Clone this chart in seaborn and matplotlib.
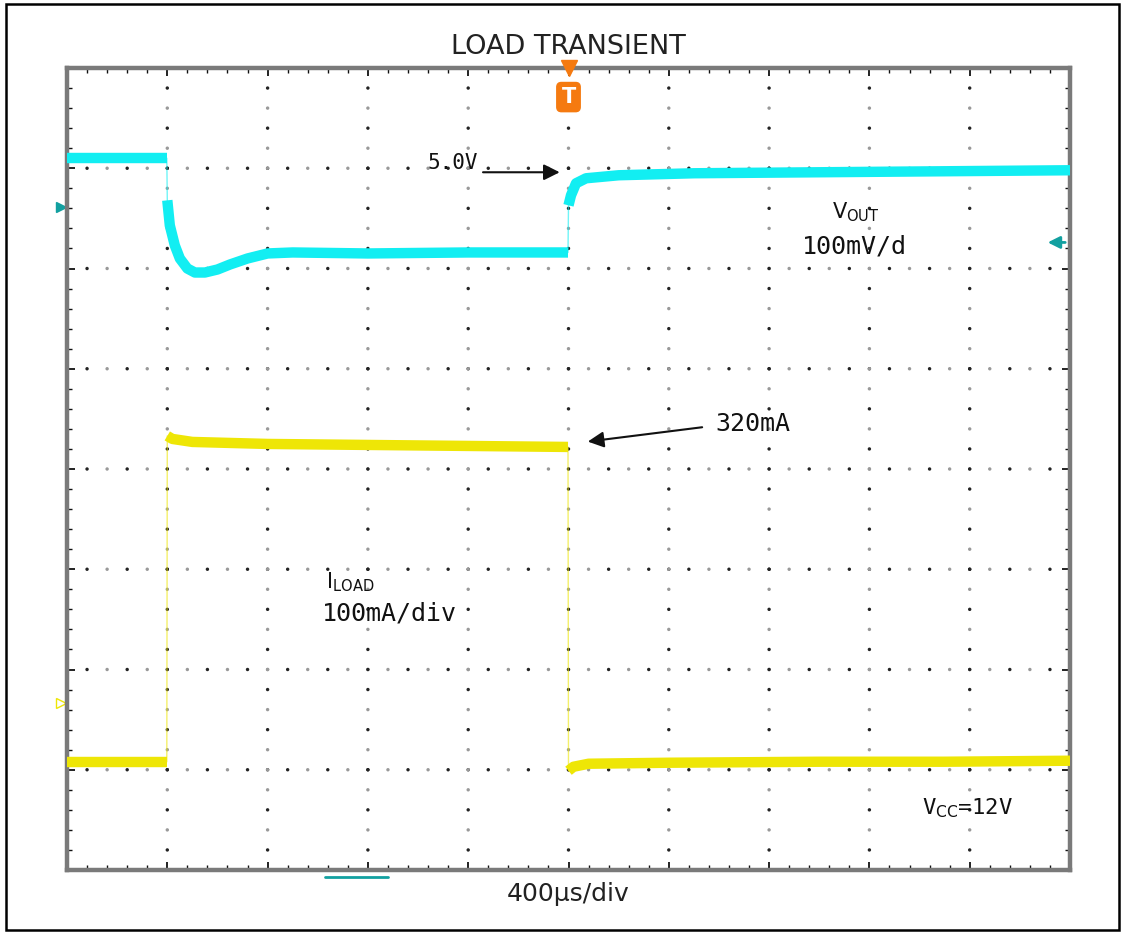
import numpy as np
import pandas as pd
import seaborn as sns
import matplotlib.pyplot as plt
from matplotlib.patches import Rectangle

# time in microseconds (400us/div, 10 div), traces in screen divisions (0..8)
t_vout = [0, 200, 398, 400, 410, 430, 450, 480, 510, 550, 600, 650, 720, 800, 900,
          1200, 1600, 1998, 2000, 2010, 2030, 2070, 2200, 2500, 3000, 3500, 4000]
vout_div = [7.10, 7.10, 7.10, 6.68, 6.43, 6.23, 6.10, 6.00, 5.96, 5.96, 5.99, 6.04, 6.10, 6.15, 6.16,
            6.15, 6.16, 6.16, 6.63, 6.73, 6.85, 6.90, 6.93, 6.95, 6.96, 6.97, 6.98]

t_iload = [0, 200, 398, 400, 420, 500, 800, 1200, 1600, 1998,
           2000, 2020, 2080, 2400, 3000, 3500, 4000]
iload_div = [1.08, 1.08, 1.08, 4.33, 4.30, 4.27, 4.25, 4.24, 4.23, 4.22,
             0.99, 1.03, 1.06, 1.07, 1.08, 1.08, 1.09]

cyan = "#12EEF2"
yellow = "#EEE606"
teal = "#12A0A0"
orange = "#F57A10"
mono = ["DejaVu Sans Mono", "DejaVu Sans"]


def make_df(t, v):
    t = np.asarray(t, dtype=float)
    seg = np.cumsum(np.r_[0, np.diff(t) <= 2])  # break at the fast edges
    return pd.DataFrame({"t": t, "v": v, "seg": seg})


vout = make_df(t_vout, vout_div)
iload = make_df(t_iload, iload_div)

sns.set_theme(style="white")
plt.rcParams["font.family"] = ["DejaVu Sans"]

fig = plt.figure(figsize=(11.25, 9.34), dpi=100)
ax = fig.add_axes([67 / 1125, 1 - 870 / 934, 1003 / 1125, 802 / 934])

# grid: dotted lines, a dot every 0.2 div
dots = np.arange(0, 8.001, 0.2)
for k in range(1, 10):
    ax.scatter(np.full(dots.size, k * 400), dots, s=6, c=np.where(np.arange(dots.size) % 2, "#222", "#999"),
               linewidths=0, zorder=1)
xdots = np.arange(0, 4000.1, 80)
for k in range(1, 8):
    ax.scatter(xdots, np.full(xdots.size, k), s=6, c=np.where(np.arange(xdots.size) % 2, "#222", "#999"),
               linewidths=0, zorder=1)

# traces: thin line for the edges, thick band for the rest
for df, col in [(vout, cyan), (iload, yellow)]:
    sns.lineplot(data=df, x="t", y="v", color=col, lw=1.0, alpha=0.6, estimator=None, sort=False, ax=ax, zorder=3)
    sns.lineplot(data=df, x="t", y="v", units="seg", estimator=None, sort=False, color=col, lw=7.5,
                 solid_capstyle="butt", ax=ax, zorder=4)

ax.set_xlim(0, 4000)
ax.set_ylim(0, 8)
ax.set_xticks(np.arange(0, 4001, 400))
ax.set_xticks(np.arange(0, 4001, 80), minor=True)
ax.set_yticks(np.arange(0, 9, 1))
ax.set_yticks(np.arange(0, 8.01, 0.2), minor=True)
ax.tick_params(which="both", direction="in", top=True, right=True, bottom=True, left=True,
               labelbottom=False, labelleft=False, color="#111")
ax.tick_params(which="major", length=6, width=1.3)
ax.tick_params(which="minor", length=3.5, width=1.0)
for s in ax.spines.values():
    s.set_color("#7a7a7a")
    s.set_linewidth(3.2)
ax.set_ylabel("")

ax.set_title("LOAD TRANSIENT", fontsize=19.5, color="#222", pad=10)
ax.set_xlabel("400\u00b5s/div", fontsize=18, color="#222", labelpad=9)

# annotations
ax.text(1436, 7.05, "5.0V", fontsize=15, family=mono, ha="left", va="center", color="#111")
ax.annotate("", xy=(1976, 6.96), xytext=(1648, 6.96),
            arrowprops=dict(arrowstyle="-|>", color="#111", lw=1.5, mutation_scale=24))
ax.text(2584, 4.45, "320mA", fontsize=18, family=mono, ha="left", va="center", color="#111")
ax.annotate("", xy=(2066, 4.27), xytext=(2544, 4.42),
            arrowprops=dict(arrowstyle="-|>", color="#111", lw=1.5, mutation_scale=24))

ax.text(3144, 6.56, r"V$_{\rm OUT}$", fontsize=15, ha="center", va="center", color="#111")
ax.text(3140, 6.22, "100mV/d", fontsize=18, family=mono, ha="center", va="center", color="#111")
ax.text(1128, 2.87, r"I$_{\rm LOAD}$", fontsize=15, ha="center", va="center", color="#111")
ax.text(1285, 2.56, "100mA/div", fontsize=18, family=mono, ha="center", va="center", color="#111")
ax.text(3593, 0.62, r"V$_{\rm CC}$=12V", fontsize=16, family=mono, ha="center", va="center", color="#111")

# trigger marker
ax.text(2000, 7.71, "T", fontsize=15, fontweight="bold", color="white", ha="center", va="center",
        bbox=dict(boxstyle="round,pad=0.22", fc=orange, ec=orange), zorder=6)
ax.plot([2000], [8.0], marker="v", ms=11, color=orange, clip_on=False, zorder=6)

# channel markers around the screen
ax.plot([-22], [6.61], marker=">", ms=7, color=teal, clip_on=False)
ax.plot([-22], [1.67], marker=">", ms=7, mfc="none", mec=yellow, clip_on=False)
ax.annotate("", xy=(3900, 6.26), xytext=(3992, 6.26),
            arrowprops=dict(arrowstyle="-|>", color=teal, lw=2, mutation_scale=18))
ax.plot([1029, 1280], [-0.07, -0.07], color=teal, lw=2, clip_on=False, zorder=6)

fig.add_artist(Rectangle((6 / 1125, 4 / 934), 1113 / 1125, 926 / 934, transform=fig.transFigure,
                         fill=False, ec="black", lw=1.8))

fig.savefig("out.png", dpi=100)
